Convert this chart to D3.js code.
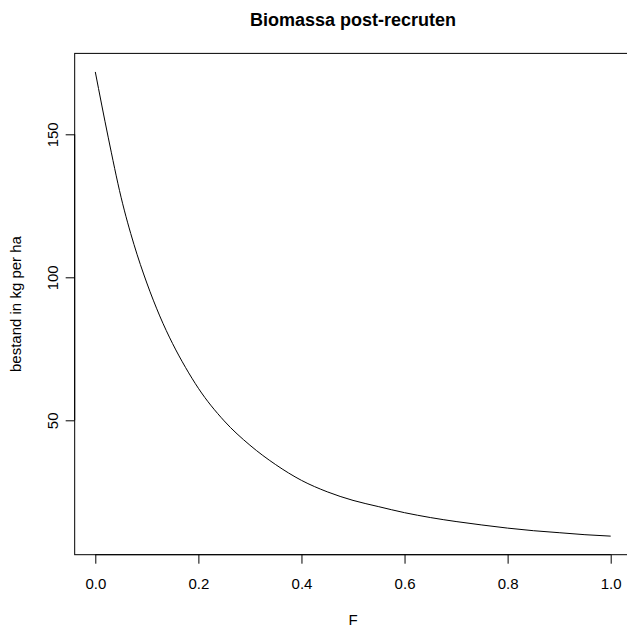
<!DOCTYPE html>
<html>
<head>
<meta charset="utf-8">
<script src="https://cdn.jsdelivr.net/npm/d3@7"></script>
<style>
  body { margin: 0; background: #fff; }
  svg { display: block; font-family: "Liberation Sans", Arial, sans-serif; }
</style>
</head>
<body>
<svg id="chart" width="627" height="627"></svg>
<script>
// F (fishing mortality) and post-recruit biomass
const fValues = [0.00, 0.025, 0.05, 0.075, 0.10, 0.125, 0.15, 0.175, 0.20, 0.25, 0.30, 0.35, 0.40, 0.45, 0.50,
                 0.55, 0.60, 0.65, 0.70, 0.75, 0.80, 0.85, 0.90, 0.95, 1.00];
const biomass = [171.8, 149.0, 128.0, 111.5, 98.0, 86.5, 76.8, 68.5, 61.2, 49.8, 41.3, 34.5, 29.0, 25.0, 22.0,
                 19.8, 17.7, 16.0, 14.6, 13.4, 12.3, 11.4, 10.7, 10.0, 9.5];
const xTicks = [0.0, 0.2, 0.4, 0.6, 0.8, 1.0];
const yTicks = [50, 100, 150];

const title = "Biomassa post-recruten";
const xLabel = "F";
const yLabel = "bestand in kg per ha";

const data = fValues.map((f, i) => ({x: f, y: biomass[i]}));

const svg = d3.select('#chart');

// R style: axes extended by 4% of the data range
const xExt = d3.extent(fValues);
const yExt = d3.extent(biomass);
const xPad = (xExt[1] - xExt[0]) * 0.04;
const yPad = (yExt[1] - yExt[0]) * 0.04;

const xScale = d3.scaleLinear()
    .domain([0, 1])
    .range([95.3, 610.7]);

const yScale = d3.scaleLinear()
    .domain([0, 150])
    .range([563.3, 134.3]);

const boxLeft = xScale(xExt[0] - xPad);
const boxRight = xScale(xExt[1] + xPad);
const boxTop = yScale(yExt[1] + yPad);
const boxBottom = yScale(yExt[0] - yPad);

// plot box
svg.append('rect')
    .attr('x', boxLeft)
    .attr('y', boxTop)
    .attr('width', boxRight - boxLeft)
    .attr('height', boxBottom - boxTop)
    .style('fill', 'none')
    .style('stroke', 'black')
    .style('stroke-width', 1);

// curve
const line = d3.line()
    .x(d => xScale(d.x))
    .y(d => yScale(d.y))
    .curve(d3.curveMonotoneX);

svg.append('path')
    .datum(data)
    .attr('d', line)
    .style('fill', 'none')
    .style('stroke', 'black')
    .style('stroke-width', 1);

// x axis
const xAxis = d3.axisBottom(xScale)
    .tickValues(xTicks)
    .tickFormat(d3.format('.1f'))
    .tickSize(9)
    .tickPadding(0);

const gx = svg.append('g')
    .attr('transform', `translate(0, ${boxBottom})`)
    .call(xAxis);
gx.select('.domain')
    .attr('d', `M${xScale(xTicks[0])},0H${xScale(xTicks[xTicks.length - 1])}`);
gx.selectAll('text')
    .attr('y', 589.3 - boxBottom)
    .attr('dy', null)
    .style('font-size', '15px')
    .style('fill', 'black');

// y axis
const yAxis = d3.axisLeft(yScale)
    .tickValues(yTicks)
    .tickSize(9);

const gy = svg.append('g')
    .attr('transform', `translate(${boxLeft}, 0)`)
    .call(yAxis);
gy.select('.domain')
    .attr('d', `M0,${yScale(yTicks[0])}V${yScale(yTicks[yTicks.length - 1])}`);
gy.selectAll('.tick text')
    .attr('x', null)
    .attr('dy', null)
    .attr('transform', `translate(${58.3 - boxLeft}, 0) rotate(-90)`)
    .style('text-anchor', 'middle')
    .style('font-size', '15px')
    .style('fill', 'black');

svg.selectAll('.domain, .tick line')
    .style('stroke', 'black')
    .style('stroke-width', 1);

// titles
const cx = (boxLeft + boxRight) / 2;
const cy = (boxTop + boxBottom) / 2;

svg.append('text')
    .attr('x', cx)
    .attr('y', 26)
    .style('text-anchor', 'middle')
    .style('font-size', '18px')
    .style('font-weight', 'bold')
    .text(title);

svg.append('text')
    .attr('x', cx)
    .attr('y', 625.3)
    .style('text-anchor', 'middle')
    .style('font-size', '15px')
    .text(xLabel);

svg.append('text')
    .attr('transform', `translate(20.5, ${cy}) rotate(-90)`)
    .style('text-anchor', 'middle')
    .style('font-size', '15px')
    .text(yLabel);
</script>
</body>
</html>
